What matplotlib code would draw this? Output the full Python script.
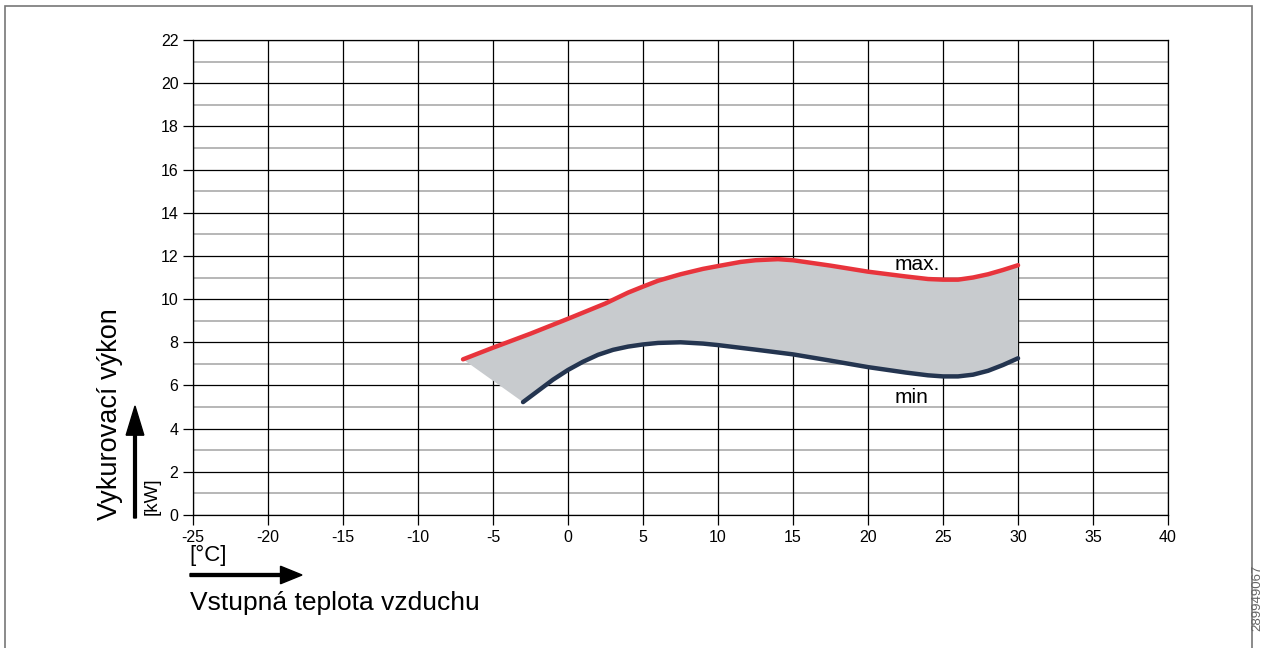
import matplotlib.pyplot as plt
from matplotlib.patches import Rectangle, FancyArrow

plt.rcParams['font.family'] = ['Liberation Sans', 'DejaVu Sans']
plt.rcParams['axes.unicode_minus'] = False

# values
max_x = [-7, -5, -2.5, 0, 2.5, 4, 5, 6, 7.5, 9, 10, 11.5, 12.5, 14, 15, 16.5, 17.5,
         20, 22.5, 24, 25, 26, 27, 28, 29, 30]
max_y = [7.21, 7.75, 8.4, 9.09, 9.8, 10.3, 10.58, 10.85, 11.15, 11.4, 11.53, 11.72, 11.8,
         11.85, 11.8, 11.65, 11.55, 11.27, 11.05, 10.93, 10.9, 10.9, 11.0, 11.15, 11.35, 11.57]
min_x = [-3, -2, -1, 0, 1, 2, 3, 4, 5, 6, 7.5, 9, 10, 12.5, 15, 17.5, 20, 22.5, 24,
         25, 26, 27, 28, 29, 30]
min_y = [5.23, 5.75, 6.27, 6.72, 7.1, 7.42, 7.65, 7.8, 7.9, 7.97, 8.0, 7.94, 7.87, 7.66,
         7.44, 7.15, 6.85, 6.6, 6.47, 6.42, 6.42, 6.5, 6.68, 6.95, 7.26]
x_ticks = list(range(-25, 41, 5))
y_ticks = list(range(0, 23, 2))

fig = plt.figure(figsize=(12.64, 6.48), dpi=100)
ax = fig.add_axes([0.1527, 0.2052, 0.7714, 0.7331])

# grid: black at even kW, grey at odd kW, black every 5 degC
for y in range(0, 23):
    if y % 2:
        ax.axhline(y, color='#aaaaaa', lw=1.2, zorder=1)
    else:
        ax.axhline(y, color='black', lw=0.9, zorder=1)
for x in x_ticks:
    ax.axvline(x, color='black', lw=0.9, zorder=1)

# shaded operating area
poly_x = max_x + min_x[::-1]
poly_y = max_y + min_y[::-1]
ax.fill(poly_x, poly_y, color='#c8cbce', lw=0, zorder=2)

ax.plot(max_x, max_y, color='#e8343c', lw=3.2, solid_capstyle='round',
        solid_joinstyle='round', zorder=3)
ax.plot(min_x, min_y, color='#243550', lw=3.2, solid_capstyle='round',
        solid_joinstyle='round', zorder=3)

ax.text(23.3, 11.6, 'max.', fontsize=15, ha='center', va='center', zorder=4)
ax.text(22.9, 5.45, 'min', fontsize=15, ha='center', va='center', zorder=4)

ax.set_xlim(-25, 40)
ax.set_ylim(0, 22)
ax.set_xticks(x_ticks)
ax.set_yticks(y_ticks)
ax.tick_params(labelsize=11.5, length=7, width=0.9, color='black')
for s in ax.spines.values():
    s.set_linewidth(0.9)

# axis captions with arrows
fig.text(110 / 1264, 1 - 414 / 648, 'Vykurovací výkon', rotation=90,
         fontsize=19.5, ha='center', va='center')
fig.text(152 / 1264, 1 - 496 / 648, '[kW]', rotation=90,
         fontsize=13.5, ha='center', va='center')
fig.add_artist(FancyArrow(135 / 1264, 1 - 518 / 648, 0, 112 / 648,
                          width=0.0022, head_width=0.014, head_length=0.045,
                          length_includes_head=True, color='black',
                          transform=fig.transFigure))
fig.text(189 / 1264, 1 - 555 / 648, '[°C]', fontsize=16, ha='left', va='center')
fig.add_artist(FancyArrow(190 / 1264, 1 - 575 / 648, 112 / 1264, 0,
                          width=0.0045, head_width=0.027, head_length=0.017,
                          length_includes_head=True, color='black',
                          transform=fig.transFigure))
fig.text(190 / 1264, 1 - 603 / 648, 'Vstupná teplota vzduchu', fontsize=19,
         ha='left', va='center')

# outer frame and drawing number
fig.add_artist(Rectangle((5 / 1264, -0.1), 1247 / 1264, 1.1 - 6 / 648,
                         transform=fig.transFigure, fill=False,
                         edgecolor='#777777', lw=1.2))
fig.text(1257 / 1264, 1 - 598 / 648, '289949067', rotation=90, fontsize=9.5,
         color='#666666', ha='center', va='center')

fig.savefig('out.png', dpi=100)
